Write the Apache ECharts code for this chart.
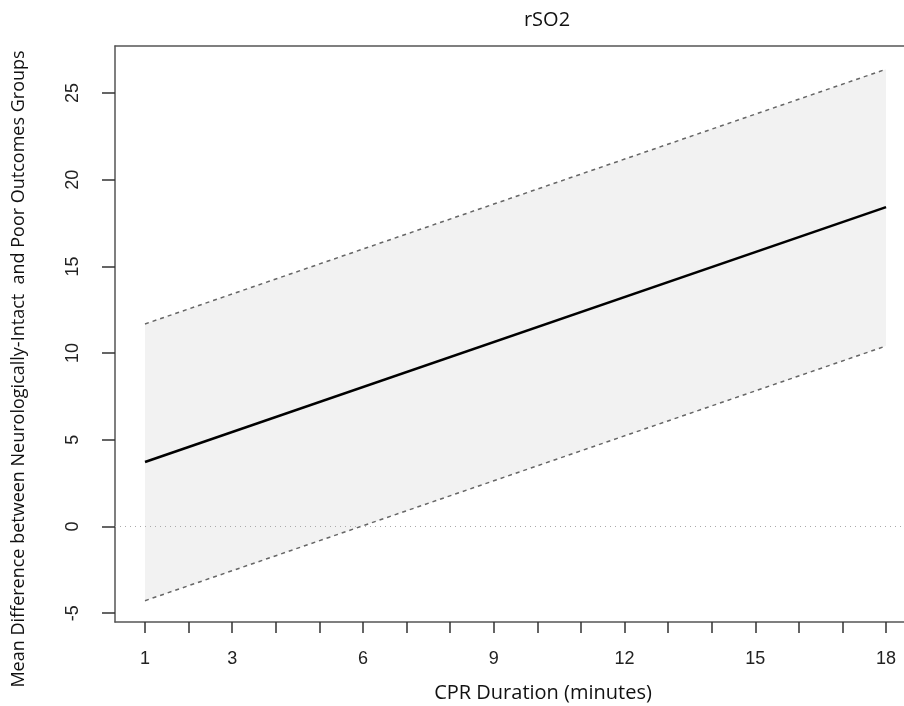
<!DOCTYPE html>
<html>
<head>
<meta charset="utf-8">
<script src="https://cdn.jsdelivr.net/npm/echarts@6/dist/echarts.min.js"></script>
<style>
  html, body { margin: 0; padding: 0; background: #fff; }
  #chart { width: 904px; height: 706px; }
</style>
</head>
<body>
<div id="chart"></div>
<script>
// CPR duration (minutes) at the ends of the fitted lines
const durations = [1, 18];
const meanDiff = [3.72, 18.42];
const upperBound = [11.68, 26.37];
const lowerBound = [-4.28, 10.41];

const xTicks = [1, 2, 3, 4, 5, 6, 7, 8, 9, 10, 11, 12, 13, 14, 15, 16, 17, 18];
const xLabels = [1, 3, 6, 9, 12, 15, 18];
const yTicks = [-5, 0, 5, 10, 15, 20, 25];

const pairs = vals => durations.map((d, i) => [d, vals[i]]);

const myChart = echarts.init(document.getElementById('chart'));
const labelFont = '"Liberation Sans", Arial, sans-serif';
const textFont = '"Open Sans", "Noto Sans", sans-serif';
const boxLine = { show: true, onZero: false, lineStyle: { color: '#555', width: 1.5 } };

// the plot box runs past the right edge of the picture, so only
// the left, bottom and top sides are drawn (via the axes)
const X_MIN = 0.312;
const X_MAX = 18.412;

const option = {
  animation: false,
  title: {
    text: 'rSO2',
    left: 542,
    top: 5,
    textAlign: 'center',
    textStyle: { fontFamily: textFont, fontSize: 20, fontWeight: 'normal', color: '#111' },
  },
  grid: {
    left: 115,
    top: 46,
    bottom: 84,
    right: 0,
  },
  xAxis: [
    {
      type: 'value',
      min: X_MIN,
      max: X_MAX,
      splitLine: { show: false },
      axisLine: boxLine,
      axisTick: {
        show: true,
        customValues: xTicks,
        length: 11,
        lineStyle: { color: '#333', width: 1.5 },
      },
      axisLabel: {
        customValues: xLabels,
        margin: 28,
        fontFamily: labelFont,
        fontSize: 18,
        color: '#222',
      },
    },
    {
      type: 'value',
      position: 'top',
      min: X_MIN,
      max: X_MAX,
      splitLine: { show: false },
      axisLine: boxLine,
      axisTick: { show: false },
      axisLabel: { show: false },
    },
  ],
  yAxis: {
    type: 'value',
    min: -5.51,
    max: 27.71,
    splitLine: { show: false },
    axisLine: boxLine,
    axisTick: {
      show: true,
      customValues: yTicks,
      length: 13,
      lineStyle: { color: '#333', width: 1.5 },
    },
    axisLabel: {
      customValues: yTicks,
      rotate: 90,
      margin: 33,
      fontFamily: labelFont,
      fontSize: 18,
      color: '#222',
    },
  },
  graphic: [
    {
      type: 'text',
      x: 543,
      y: 693,
      style: {
        text: 'CPR Duration (minutes)',
        font: '20px ' + textFont,
        fill: '#111',
        align: 'center',
        verticalAlign: 'middle',
      },
    },
    {
      type: 'text',
      x: 19,
      y: 369,
      rotation: Math.PI / 2,
      style: {
        text: 'Mean Difference between Neurologically-Intact  and Poor Outcomes Groups',
        font: '18px ' + textFont,
        fill: '#111',
        align: 'center',
        verticalAlign: 'middle',
      },
    },
  ],
  series: [
    {
      name: 'band',
      type: 'custom',
      z: 1,
      silent: true,
      clip: true,
      data: [[durations[0], meanDiff[0]]],
      renderItem: (params, api) => {
        const pts = [];
        durations.forEach((d, i) => pts.push(api.coord([d, upperBound[i]])));
        for (let i = durations.length - 1; i >= 0; i--) {
          pts.push(api.coord([durations[i], lowerBound[i]]));
        }
        return {
          type: 'polygon',
          shape: { points: pts },
          style: { fill: '#f2f2f2' },
        };
      },
    },
    {
      name: 'upper',
      type: 'line',
      z: 3,
      showSymbol: false,
      data: pairs(upperBound),
      lineStyle: { color: '#666', width: 1.5, type: [4, 4] },
    },
    {
      name: 'lower',
      type: 'line',
      z: 3,
      showSymbol: false,
      data: pairs(lowerBound),
      lineStyle: { color: '#666', width: 1.5, type: [4, 4] },
    },
    {
      name: 'mean',
      type: 'line',
      z: 4,
      showSymbol: false,
      data: pairs(meanDiff),
      lineStyle: { color: '#000', width: 2.5 },
      markLine: {
        silent: true,
        symbol: 'none',
        label: { show: false },
        lineStyle: { color: '#aaa', width: 1, type: [1, 4] },
        data: [{ yAxis: 0 }],
      },
    },
  ],
};
myChart.setOption(option, true);
</script>
</body>
</html>
